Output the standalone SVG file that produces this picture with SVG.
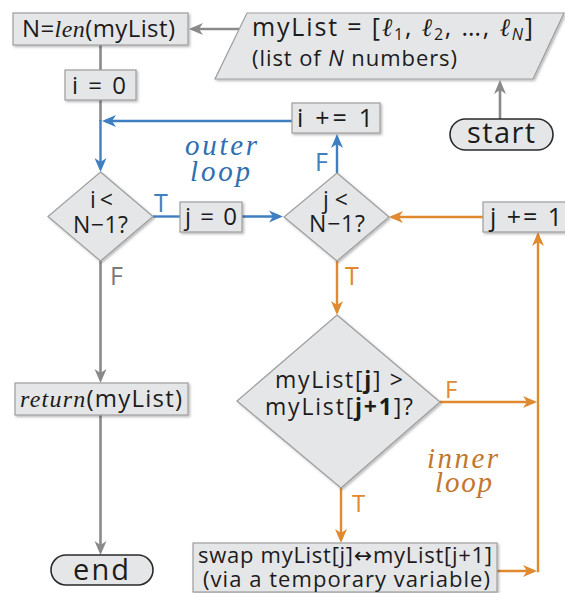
<svg xmlns="http://www.w3.org/2000/svg" width="565" height="593" viewBox="0 0 565 593">
<defs>
<style>
.box{fill:#e5e6e7;stroke:#9d9d9d;stroke-width:1.2;filter:url(#sh)}
.term{fill:#e5e6e7;stroke:#2a2a2a;stroke-width:1.6}
.t{font-family:"Open Sans","Noto Sans","DejaVu Sans",sans-serif;fill:#1c1c1c}
.it{font-family:"Liberation Serif","DejaVu Serif",serif;font-style:italic}
.sc{font-family:"DejaVu Serif","Liberation Serif",serif;font-style:italic}
.g{fill:none;stroke:#8a8a8a;stroke-width:2.6}
.b{fill:none;stroke:#3f7fc1;stroke-width:2.4}
.o{fill:none;stroke:#e0892f;stroke-width:2.4}
.lb{fill:#3f7fc1}
.lo{fill:#e0892f}
.lg{fill:#7a7a7a}
</style>
<filter id="sh" x="-10%" y="-20%" width="130%" height="150%">
<feDropShadow dx="1.5" dy="1.5" stdDeviation="1.2" flood-color="#000" flood-opacity="0.28"/>
</filter>
<marker id="ag" markerUnits="userSpaceOnUse" viewBox="-15 -7 16 14" markerWidth="16" markerHeight="14" refX="-3" refY="0" orient="auto"><path d="M0,0 L-14,-6 L-10,0 L-14,6 Z" fill="#8a8a8a"/></marker>
<marker id="ab" markerUnits="userSpaceOnUse" viewBox="-15 -7 16 14" markerWidth="16" markerHeight="14" refX="-3" refY="0" orient="auto"><path d="M0,0 L-14,-6 L-10,0 L-14,6 Z" fill="#3f7fc1"/></marker>
<marker id="ao" markerUnits="userSpaceOnUse" viewBox="-15 -7 16 14" markerWidth="16" markerHeight="14" refX="-3" refY="0" orient="auto"><path d="M0,0 L-14,-6 L-10,0 L-14,6 Z" fill="#e0892f"/></marker>
</defs>

<g id="connectors">
<path class="g" d="M239,29 L192,29" marker-end="url(#ag)"/>
<path class="g" d="M100.5,45 L100.5,70"/>
<path class="g" d="M100.5,100 L100.5,121"/>
<path class="b" d="M100.5,120 L100.5,169" marker-end="url(#ab)"/>
<path class="b" d="M292,121 L105,121" marker-end="url(#ab)"/>
<path class="g" d="M100.5,261 L100.5,380" marker-end="url(#ag)"/>
<path class="g" d="M100.5,415 L100.5,552" marker-end="url(#ag)"/>
<path class="g" d="M500,119 L500,83" marker-end="url(#ag)"/>
<path class="b" d="M153,216.5 L180,216.5"/>
<path class="b" d="M242,216.5 L280,216.5" marker-end="url(#ab)"/>
<path class="b" d="M337,173 L337,137" marker-end="url(#ab)"/>
<path class="o" d="M483,217 L392,217" marker-end="url(#ao)"/>
<path class="o" d="M337,261 L337,312" marker-end="url(#ao)"/>
<path class="o" d="M440,402 L534,402" marker-end="url(#ao)"/>
<path class="o" d="M341,488 L341,540" marker-end="url(#ao)"/>
<path class="o" d="M497,571 L534,571" marker-end="url(#ao)"/>
<path class="o" d="M538,572.2 L538,235" marker-end="url(#ao)"/>
</g>

<g id="n-len">
<rect class="box" x="13" y="13" width="175" height="32"/>
<text class="t" x="22" y="37" font-size="24" textLength="153" lengthAdjust="spacing">N=<tspan class="it">len</tspan>(myList)</text>
</g>

<g id="n-input">
<polygon class="box" points="247,13 564,13 533,79 215,79"/>
<text class="t" x="252" y="36" font-size="25" textLength="281" lengthAdjust="spacing">myList = [<tspan class="sc">ℓ</tspan><tspan font-size="16" dy="4">1</tspan><tspan dy="-4">, </tspan><tspan class="sc">ℓ</tspan><tspan font-size="16" dy="4">2</tspan><tspan dy="-4">, …, </tspan><tspan class="sc">ℓ</tspan><tspan font-size="16" font-style="italic" dy="4">N</tspan><tspan dy="-4">]</tspan></text>
<text class="t" x="252" y="66" font-size="22" textLength="205" lengthAdjust="spacing">(list of <tspan font-style="italic">N</tspan> numbers)</text>
</g>

<g id="n-start">
<rect class="term" x="450" y="119" width="103" height="31" rx="15.5"/>
<text class="t" x="467" y="143" font-size="29" textLength="68" lengthAdjust="spacing">start</text>
</g>

<g id="n-i0">
<rect class="box" x="65" y="70" width="71" height="30"/>
<text class="t" x="72" y="94" font-size="24" textLength="54" lengthAdjust="spacing">i = 0</text>
</g>

<g id="n-iinc">
<rect class="box" x="292" y="103" width="88" height="30"/>
<text class="t" x="297" y="127" font-size="25" textLength="76" lengthAdjust="spacing">i += 1</text>
</g>

<g id="n-outer-label">
<text class="it" x="185" y="155" font-size="29" fill="#2f6faf" textLength="72" lengthAdjust="spacing">outer</text>
<text class="it" x="190" y="181" font-size="29" fill="#2f6faf" textLength="60" lengthAdjust="spacing">loop</text>
</g>

<g id="n-icond">
<polygon class="box" points="100.5,172 153,216.5 100.5,261 48,216.5"/>
<text class="t" x="90" y="208" font-size="23" textLength="23" lengthAdjust="spacing">i&lt;</text>
<text class="t" x="73" y="233" font-size="23" textLength="55" lengthAdjust="spacing">N−1?</text>
<text class="t lb" x="154" y="212" font-size="25">T</text>
<text class="t lg" x="110" y="285" font-size="25">F</text>
</g>

<g id="n-j0">
<rect class="box" x="180" y="202" width="62" height="30"/>
<text class="t" x="185" y="225" font-size="24" textLength="52" lengthAdjust="spacing">j = 0</text>
</g>

<g id="n-jcond">
<polygon class="box" points="337,173 389,217 337,261 284,217"/>
<text class="t" x="323" y="208" font-size="23" textLength="25" lengthAdjust="spacing">j&lt;</text>
<text class="t" x="309" y="232" font-size="23" textLength="56" lengthAdjust="spacing">N−1?</text>
<text class="t lb" x="315" y="171" font-size="25">F</text>
<text class="t lo" x="345" y="285" font-size="25">T</text>
</g>

<g id="n-jinc">
<rect class="box" x="483" y="202" width="86" height="30"/>
<text class="t" x="490" y="226" font-size="25" textLength="72" lengthAdjust="spacing">j += 1</text>
</g>

<g id="n-compare">
<polygon class="box" points="337,315 440,402 341,488 237,401"/>
<text class="t" x="275" y="388" font-size="23" textLength="128" lengthAdjust="spacing">myList[<tspan font-weight="bold">j</tspan>] &gt;</text>
<text class="t" x="265" y="415" font-size="23" textLength="148" lengthAdjust="spacing">myList[<tspan font-weight="bold">j+1</tspan>]?</text>
<text class="t lo" x="445" y="398" font-size="24">F</text>
<text class="t lo" x="352" y="512" font-size="24">T</text>
</g>

<g id="n-inner-label">
<text class="it" x="427" y="468" font-size="29" fill="#c2772f" textLength="71" lengthAdjust="spacing">inner</text>
<text class="it" x="435" y="492" font-size="29" fill="#c2772f" textLength="57" lengthAdjust="spacing">loop</text>
</g>

<g id="n-swap">
<rect class="box" x="193" y="543" width="304" height="49"/>
<text class="t" x="198" y="563" font-size="22" textLength="294" lengthAdjust="spacing">swap myList[j]↔myList[j+1]</text>
<text class="t" x="203" y="587" font-size="22" textLength="287" lengthAdjust="spacing">(via a temporary variable)</text>
</g>

<g id="n-return">
<rect class="box" x="15" y="383" width="173" height="32"/>
<text class="t" x="20" y="407" font-size="24" textLength="162" lengthAdjust="spacing"><tspan class="it">return</tspan>(myList)</text>
</g>

<g id="n-end">
<rect class="term" x="51" y="555" width="102" height="30" rx="15"/>
<text class="t" x="73" y="580" font-size="29" textLength="56" lengthAdjust="spacing">end</text>
</g>
</svg>
